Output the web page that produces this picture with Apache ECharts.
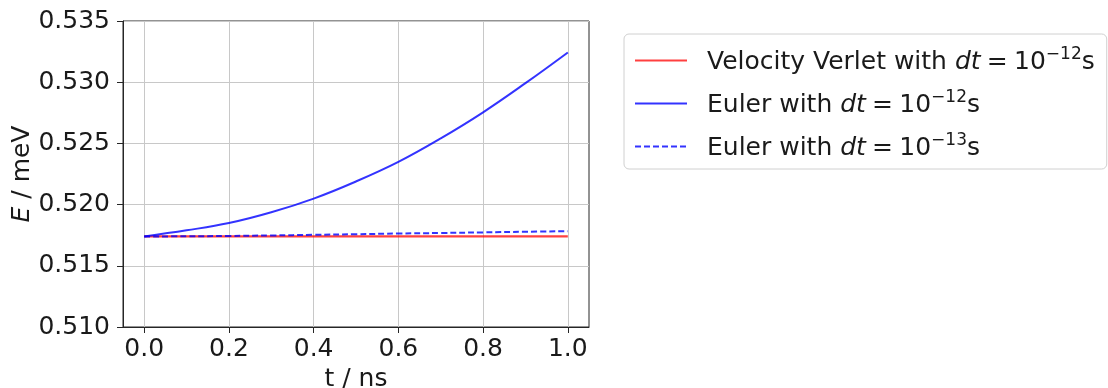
<!DOCTYPE html>
<html>
<head>
<meta charset="utf-8">
<script src="https://cdn.jsdelivr.net/npm/echarts@6/dist/echarts.min.js"></script>
<style>
  html, body { margin: 0; padding: 0; background: #fff; }
  #chart { width: 1108px; height: 388px; }
</style>
</head>
<body>
<div id="chart"></div>
<script>
// Time samples (ns)
const timeNs = [0.0, 0.1, 0.2, 0.3, 0.4, 0.5, 0.6, 0.7, 0.8, 0.9, 1.0];
// Total energy (meV) for each integrator
const verletDt12 = [0.51740, 0.51740, 0.51740, 0.51740, 0.51740, 0.51740, 0.51740, 0.51740, 0.51740, 0.51740, 0.51740];
const eulerDt12  = [0.51740, 0.51790, 0.51849, 0.51937, 0.52049, 0.52189, 0.52349, 0.52541, 0.52754, 0.52992, 0.53243];
const eulerDt13  = [0.51740, 0.51741, 0.51744, 0.51748, 0.51753, 0.51758, 0.51764, 0.51768, 0.51773, 0.51778, 0.51783];
// Axis ticks
const xTicks = [0.0, 0.2, 0.4, 0.6, 0.8, 1.0];
// Legend entries: [prefix, superscript exponent]
const seriesNames = ['Velocity Verlet', 'Euler', 'Euler fine'];
const legendParts = {
  'Velocity Verlet': ['Velocity Verlet with ', '\u221212'],
  'Euler': ['Euler with ', '\u221212'],
  'Euler fine': ['Euler with ', '\u221213']
};

const FONT = 'DejaVu Sans';
const FS = 25;
const TXT = '#1a1a1a';
const pairs = (ys) => timeNs.map((t, i) => [t, ys[i]]);

const chart = echarts.init(document.getElementById('chart'), null, { renderer: 'canvas' });

chart.setOption({
  animation: false,
  backgroundColor: '#ffffff',
  grid: {
    left: 123, top: 21, right: 519, bottom: 61,
    outerBoundsMode: 'none',
    containLabel: false,
    show: true, borderColor: '#262626', borderWidth: 1, backgroundColor: 'transparent'
  },
  legend: {
    orient: 'vertical',
    left: 624, top: 34,
    padding: [12, 12, 8, 10],
    itemGap: 14,
    itemWidth: 52, itemHeight: 14,
    borderColor: '#d0d0d0', borderWidth: 1, borderRadius: 5,
    backgroundColor: '#ffffff',
    itemStyle: { opacity: 0 },
    data: seriesNames,
    formatter: function (name) {
      const p = legendParts[name];
      return '{n|' + p[0] + '}{i|dt}{n|\u2005=\u200510}{s|' + p[1] + '}{n|s}';
    },
    textStyle: {
      color: TXT, fontFamily: FONT, fontSize: FS,
      padding: [0, 0, 0, 15],
      rich: {
        n: { fontFamily: FONT, fontSize: FS, color: TXT, lineHeight: 29, verticalAlign: 'bottom' },
        i: { fontFamily: FONT, fontSize: FS, color: TXT, fontStyle: 'italic', lineHeight: 29, verticalAlign: 'bottom' },
        s: { fontFamily: FONT, fontSize: 17, color: TXT, lineHeight: 17, verticalAlign: 'top' }
      }
    }
  },
  xAxis: {
    type: 'value',
    min: -0.05, max: 1.05,
    name: 't / ns',
    nameLocation: 'middle',
    nameGap: 36,
    nameTextStyle: { fontFamily: FONT, fontSize: FS, color: TXT },
    axisLine: { show: true, onZero: false, lineStyle: { color: '#262626', width: 1 } },
    axisTick: { show: true, length: 6, customValues: xTicks, lineStyle: { color: '#262626' } },
    axisLabel: {
      customValues: xTicks,
      fontFamily: FONT, fontSize: FS, color: TXT, margin: 10,
      formatter: (v) => v.toFixed(1)
    },
    splitLine: { show: true, lineStyle: { color: '#c8c8c8', width: 1 } }
  },
  yAxis: {
    type: 'value',
    min: 0.510, max: 0.535, interval: 0.005,
    name: '{i|E} / meV',
    nameLocation: 'middle',
    nameRotate: 90,
    nameGap: 86,
    nameTextStyle: {
      fontFamily: FONT, fontSize: FS, color: TXT,
      rich: { i: { fontFamily: FONT, fontSize: FS, fontStyle: 'italic', color: TXT } }
    },
    axisLine: { show: true, onZero: false, lineStyle: { color: '#262626', width: 1 } },
    axisTick: { show: true, length: 6, lineStyle: { color: '#262626' } },
    axisLabel: {
      fontFamily: FONT, fontSize: FS, color: TXT, margin: 13,
      formatter: (v) => v.toFixed(3)
    },
    splitLine: { show: true, lineStyle: { color: '#c8c8c8', width: 1 } }
  },
  series: [
    {
      name: seriesNames[0], type: 'line', data: pairs(verletDt12),
      symbol: 'none', smooth: 0.4, z: 3,
      itemStyle: { color: 'rgba(255,0,0,0.75)' },
      lineStyle: { color: 'rgba(255,0,0,0.75)', width: 2.2 }
    },
    {
      name: seriesNames[1], type: 'line', data: pairs(eulerDt12),
      symbol: 'none', smooth: 0.4, z: 4,
      itemStyle: { color: 'rgba(0,0,255,0.8)' },
      lineStyle: { color: 'rgba(0,0,255,0.8)', width: 2 }
    },
    {
      name: seriesNames[2], type: 'line', data: pairs(eulerDt13),
      symbol: 'none', smooth: 0.4, z: 5,
      itemStyle: { color: 'rgba(0,0,255,0.8)' },
      lineStyle: { color: 'rgba(0,0,255,0.8)', width: 2, type: [6, 3] }
    }
  ]
});
</script>
</body>
</html>
